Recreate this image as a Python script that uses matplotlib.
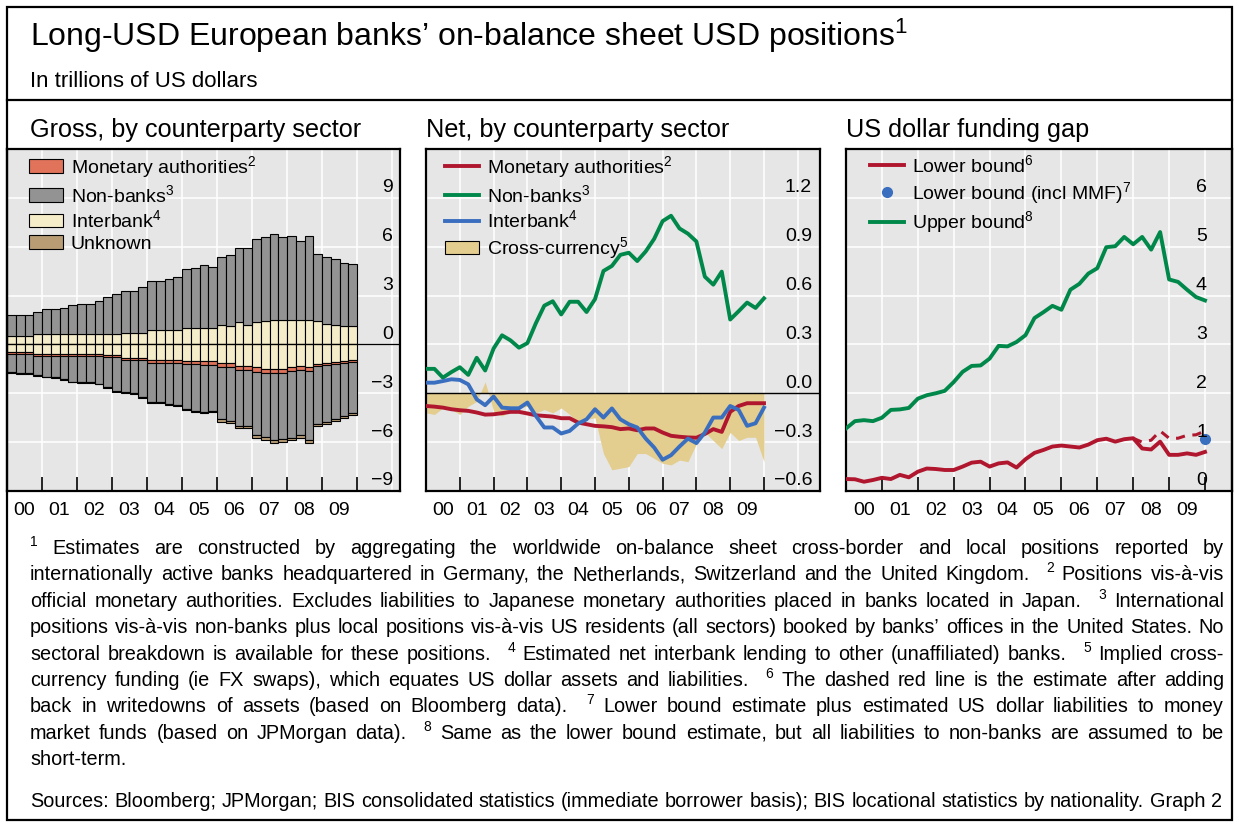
import matplotlib
matplotlib.use('Agg')
import matplotlib.pyplot as plt
import matplotlib.transforms as mtransforms
from matplotlib.patches import Rectangle, Patch
from matplotlib.lines import Line2D
import numpy as np

plt.rcParams['font.family'] = ['Liberation Sans', 'DejaVu Sans']
plt.rcParams['mathtext.fontset'] = 'custom'
plt.rcParams['mathtext.rm'] = 'Liberation Sans'
plt.rcParams['mathtext.it'] = 'Liberation Sans'
plt.rcParams['mathtext.bf'] = 'Liberation Sans'

W, H = 1239, 825

# ---------------- data ----------------
year_labels = ['00', '01', '02', '03', '04', '05', '06', '07', '08', '09']

# Gross panel (40 quarters, 2000Q1-2009Q4), USD trn
gross_interbank_assets = [0.51, 0.51, 0.51, 0.61, 0.61, 0.61, 0.61, 0.61, 0.61, 0.61,
                          0.67, 0.67, 0.67, 0.71, 0.71, 0.71, 0.91, 0.91, 0.91, 0.91,
                          1.01, 1.01, 1.01, 1.01, 1.22, 1.16, 1.36, 1.22, 1.36, 1.44,
                          1.52, 1.52, 1.52, 1.48, 1.52, 1.46, 1.26, 1.20, 1.12, 1.16]
gross_nonbank_assets = [1.32, 1.32, 1.32, 1.39, 1.58, 1.56, 1.62, 1.82, 1.88, 1.88,
                        1.97, 2.23, 2.43, 2.60, 2.60, 2.84, 3.00, 3.00, 3.13, 3.21,
                        3.61, 3.69, 3.87, 3.77, 4.12, 4.31, 4.55, 4.69, 5.11, 5.13,
                        5.28, 5.09, 5.13, 4.85, 5.12, 4.09, 4.12, 4.02, 3.90, 3.78]
gross_interbank_liab = [0.47, 0.47, 0.47, 0.57, 0.61, 0.61, 0.61, 0.61, 0.61, 0.61,
                        0.61, 0.67, 0.67, 0.81, 0.81, 0.81, 0.95, 0.95, 0.95, 0.95,
                        1.01, 1.01, 1.01, 1.01, 1.12, 1.16, 1.32, 1.32, 1.40, 1.48,
                        1.50, 1.50, 1.38, 1.32, 1.40, 1.20, 1.12, 1.08, 1.01, 0.95]
gross_monetary_liab = [0.10, 0.10, 0.10, 0.12, 0.10, 0.10, 0.10, 0.10, 0.10, 0.10,
                       0.12, 0.12, 0.12, 0.14, 0.14, 0.14, 0.16, 0.16, 0.16, 0.16,
                       0.20, 0.20, 0.24, 0.24, 0.26, 0.24, 0.24, 0.24, 0.28, 0.26,
                       0.26, 0.26, 0.28, 0.24, 0.24, 0.12, 0.12, 0.10, 0.10, 0.12]
gross_nonbank_liab = [1.15, 1.19, 1.19, 1.20, 1.28, 1.32, 1.42, 1.58, 1.62, 1.62,
                      1.70, 1.85, 2.05, 1.99, 2.03, 2.30, 2.40, 2.40, 2.54, 2.60,
                      2.77, 2.88, 2.89, 2.85, 3.22, 3.32, 3.43, 3.43, 3.88, 3.92,
                      4.12, 4.06, 4.06, 4.00, 4.24, 3.55, 3.53, 3.40, 3.30, 3.11]
gross_unknown_liab = [0.03, 0.03, 0.03, 0.03, 0.03, 0.03, 0.03, 0.03, 0.03, 0.03,
                      0.03, 0.06, 0.06, 0.06, 0.06, 0.06, 0.06, 0.06, 0.06, 0.06,
                      0.06, 0.06, 0.06, 0.06, 0.14, 0.12, 0.14, 0.14, 0.16, 0.20,
                      0.20, 0.20, 0.14, 0.16, 0.16, 0.14, 0.10, 0.12, 0.12, 0.16]

# Net panel (41 points, quarterly from 2000 to 2010)
net_monetary = [-0.078, -0.082, -0.088, -0.098, -0.104, -0.108, -0.118, -0.131, -0.129, -0.122,
                -0.114, -0.114, -0.124, -0.135, -0.139, -0.143, -0.153, -0.153, -0.180, -0.190,
                -0.200, -0.203, -0.208, -0.220, -0.216, -0.227, -0.216, -0.216, -0.241, -0.261,
                -0.267, -0.271, -0.273, -0.250, -0.220, -0.237, -0.114, -0.078, -0.061, -0.061,
                -0.061]
net_nonbanks = [0.150, 0.150, 0.096, 0.130, 0.160, 0.113, 0.218, 0.140, 0.275, 0.356,
                0.325, 0.280, 0.308, 0.430, 0.538, 0.565, 0.484, 0.562, 0.562, 0.499,
                0.578, 0.751, 0.782, 0.850, 0.863, 0.812, 0.871, 0.948, 1.057, 1.090,
                1.012, 0.980, 0.932, 0.716, 0.667, 0.747, 0.453, 0.504, 0.557, 0.524,
                0.583]
net_interbank = [0.065, 0.065, 0.075, 0.086, 0.082, 0.055, -0.037, -0.073, -0.020, -0.088,
                 -0.092, -0.092, -0.057, -0.139, -0.210, -0.210, -0.247, -0.231, -0.186, -0.160,
                 -0.098, -0.149, -0.093, -0.160, -0.190, -0.210, -0.278, -0.333, -0.408, -0.380,
                 -0.327, -0.278, -0.306, -0.241, -0.149, -0.149, -0.078, -0.102, -0.200, -0.184,
                 -0.088]
net_cross_currency = [-0.12, -0.13, -0.09, -0.10, -0.13, -0.08, -0.05, 0.07, -0.11, -0.14,
                      -0.11, -0.09, -0.08, -0.12, -0.10, -0.12, -0.09, -0.13, -0.18, -0.16,
                      -0.15, -0.37, -0.47, -0.46, -0.45, -0.37, -0.37, -0.40, -0.43, -0.44,
                      -0.41, -0.42, -0.31, -0.24, -0.29, -0.34, -0.24, -0.29, -0.27, -0.27,
                      -0.42]

# Funding gap panel (41 points)
gap_upper = [1.28, 1.43, 1.45, 1.43, 1.50, 1.66, 1.67, 1.70, 1.89, 1.96,
             2.00, 2.05, 2.23, 2.44, 2.56, 2.57, 2.71, 2.97, 2.96, 3.05,
             3.19, 3.54, 3.66, 3.79, 3.71, 4.12, 4.24, 4.45, 4.56, 4.99,
             5.01, 5.20, 5.05, 5.20, 4.94, 5.30, 4.33, 4.28, 4.12, 3.97,
             3.90]
gap_lower = [0.245, 0.240, 0.190, 0.225, 0.270, 0.245, 0.330, 0.280, 0.395, 0.460,
             0.450, 0.430, 0.430, 0.500, 0.580, 0.600, 0.500, 0.565, 0.585, 0.480,
             0.650, 0.780, 0.840, 0.910, 0.930, 0.910, 0.890, 0.950, 1.040, 1.070,
             1.010, 1.060, 1.080, 0.870, 0.850, 1.010, 0.740, 0.740, 0.770, 0.740,
             0.800]
gap_lower_writedowns = [1.08, 1.00, 1.04, 1.23, 1.08, 1.08, 1.14, 1.15, 1.23]  # from point 32 on
gap_lower_mmf = [1.06]  # last point only

# ---------------- figure ----------------
fig = plt.figure(figsize=(W / 100, H / 100), dpi=100)


def fx(px):
    return px / W


def fy(py):
    return 1 - py / H


def px_box(x0, y0, x1, y1):
    return [x0 / W, 1 - y1 / H, (x1 - x0) / W, (y1 - y0) / H]


# outer frame and header separator
fig.add_artist(Rectangle((fx(7), fy(820)), fx(1232) - fx(7), fy(7) - fy(820),
                         transform=fig.transFigure, fill=False, lw=1.6, ec='black'))
fig.add_artist(Line2D([fx(7), fx(1232)], [fy(100), fy(100)], transform=fig.transFigure,
                      lw=1.6, color='black'))

fig.text(fx(30), fy(46), 'Long-USD European banks\u2019 on-balance sheet USD positions$^{1}$',
         fontsize=23, va='baseline', ha='left')
fig.text(fx(30), fy(87), 'In trillions of US dollars', fontsize=16, va='baseline', ha='left')

panel_titles = ['Gross, by counterparty sector', 'Net, by counterparty sector', 'US dollar funding gap']
title_x = [30, 426, 846]
for t, x in zip(panel_titles, title_x):
    fig.text(fx(x), fy(137), t, fontsize=18.2, va='baseline', ha='left')

BG = '#e6e6e6'
RED = '#b0172f'
GREEN = '#00884a'
BLUE = '#3a6ebf'
TFS = 14
LFS = 14


def style_axes(ax, xmax, ylim, ytick_vals, ytick_labels, label_x):
    ax.set_facecolor(BG)
    ax.set_xlim(2000, xmax)
    ax.set_ylim(*ylim)
    for s in ax.spines.values():
        s.set_linewidth(1.6)
        s.set_color('black')
    for yr in range(2001, int(np.floor(xmax)) + 1):
        ax.axvline(yr, color='white', lw=1.1, zorder=0.5)
    for v in ytick_vals:
        if v != 0 and ylim[0] < v < ylim[1]:
            ax.axhline(v, color='white', lw=1.1, zorder=0.5)
    ax.set_xticks(list(range(2001, 2011)))
    ax.set_xticklabels([])
    ax.set_xticks([2000.5 + k for k in range(10)], minor=True)
    ax.set_xticklabels(year_labels, minor=True)
    ax.tick_params(axis='x', which='major', direction='in', length=10, width=1.2,
                   color='black', labelbottom=False)
    ax.tick_params(axis='x', which='minor', length=0, pad=8, labelsize=TFS)
    ax.set_yticks([])
    trans = mtransforms.offset_copy(ax.get_yaxis_transform(), fig=fig, x=0, y=4.0, units='points')
    for v, lab in zip(ytick_vals, ytick_labels):
        ax.text(label_x, v, lab, transform=trans, ha='right', va='baseline', fontsize=TFS, zorder=5)


leg_kw = dict(loc='upper left', bbox_transform=fig.transFigure, frameon=False, fontsize=LFS,
              borderpad=0, borderaxespad=0, handlelength=1.75, handleheight=0.7,
              handletextpad=0.4, labelspacing=0.2)

# ---------- left panel: gross ----------
ax1 = fig.add_axes(px_box(7, 149, 400, 491))
style_axes(ax1, 2000 + (400 - 7) / 35.0, (-9, 12),
           [9, 6, 3, 0, -3, -6, -9], ['9', '6', '3', '0', '\u22123', '\u22126', '\u22129'],
           0.982)
n = len(gross_interbank_assets)
xb = 2000.125 + 0.25 * np.arange(n)
ib_a = np.array(gross_interbank_assets)
nb_a = np.array(gross_nonbank_assets)
ib_l = -np.array(gross_interbank_liab)
ma_l = -np.array(gross_monetary_liab)
nb_l = -np.array(gross_nonbank_liab)
un_l = -np.array(gross_unknown_liab)
C_MA, C_NB, C_IB, C_UN = '#e0735a', '#939393', '#f5ecca', '#b89c74'
bkw = dict(width=0.25, edgecolor='black', linewidth=0.8, zorder=2)
ax1.bar(xb, ib_a, color=C_IB, **bkw)
ax1.bar(xb, nb_a, bottom=ib_a, color=C_NB, **bkw)
ax1.bar(xb, ib_l, color=C_IB, **bkw)
ax1.bar(xb, ma_l, bottom=ib_l, color=C_MA, **bkw)
ax1.bar(xb, nb_l, bottom=ib_l + ma_l, color=C_NB, **bkw)
ax1.bar(xb, un_l, bottom=ib_l + ma_l + nb_l, color=C_UN, **bkw)
ax1.axhline(0, color='black', lw=0.9, zorder=3)

h1 = [Patch(fc=C_MA, ec='black', lw=0.8), Patch(fc=C_NB, ec='black', lw=0.8),
      Patch(fc=C_IB, ec='black', lw=0.8), Patch(fc=C_UN, ec='black', lw=0.8)]
l1 = ['Monetary authorities$^{2}$', 'Non-banks$^{3}$', 'Interbank$^{4}$', 'Unknown']
ax1.legend(h1, l1, bbox_to_anchor=(fx(29), fy(154)), **leg_kw)

# ---------- middle panel: net ----------
ax2 = fig.add_axes(px_box(426, 149, 820, 491))
style_axes(ax2, 2000 + (820 - 426) / 33.8, (-0.6, 1.5),
           [1.2, 0.9, 0.6, 0.3, 0.0, -0.3, -0.6],
           ['1.2', '0.9', '0.6', '0.3', '0.0', '\u22120.3', '\u22120.6'], 0.98)
xq = 2000 + 0.25 * np.arange(len(net_nonbanks))
C_CC = '#e3cd8f'
ax2.fill_between(xq, 0, net_cross_currency, color=C_CC, lw=0, zorder=1)
ax2.axhline(0, color='black', lw=1.0, zorder=2)
ax2.plot(xq, net_monetary, color=RED, lw=2.8, zorder=3)
ax2.plot(xq, net_nonbanks, color=GREEN, lw=2.8, zorder=3)
ax2.plot(xq, net_interbank, color=BLUE, lw=2.8, zorder=3)
h2 = [Line2D([], [], color=RED, lw=2.8), Line2D([], [], color=GREEN, lw=2.8),
      Line2D([], [], color=BLUE, lw=2.8), Patch(fc=C_CC, ec='black', lw=0.8)]
l2 = ['Monetary authorities$^{2}$', 'Non-banks$^{3}$', 'Interbank$^{4}$', 'Cross-currency$^{5}$']
ax2.legend(h2, l2, bbox_to_anchor=(fx(445), fy(154)), **leg_kw)

# ---------- right panel: funding gap ----------
ax3 = fig.add_axes(px_box(846, 149, 1232, 491))
style_axes(ax3, 2000 + (1232 - 846) / 35.9, (0, 7),
           [6, 5, 4, 3, 2, 1, 0], ['6', '5', '4', '3', '2', '1', '0'], 0.935)
xg = 2000 + 0.25 * np.arange(len(gap_upper))
ax3.plot(xg, gap_lower, color=RED, lw=2.8, zorder=3)
xw = xg[len(xg) - len(gap_lower_writedowns):]
ax3.plot(xw, gap_lower_writedowns, color=RED, lw=2.2, ls=(0, (3, 2.5)), zorder=3)
ax3.plot(xg[-1:], gap_lower_mmf, 'o', color=BLUE, ms=7, zorder=4)
ax3.plot(xg, gap_upper, color=GREEN, lw=2.8, zorder=3)
h3 = [Line2D([], [], color=RED, lw=2.8),
      Line2D([], [], color=BLUE, marker='o', ls='none', ms=7),
      Line2D([], [], color=GREEN, lw=2.8)]
l3 = ['Lower bound$^{6}$', 'Lower bound (incl MMF)$^{7}$', 'Upper bound$^{8}$']
ax3.legend(h3, l3, bbox_to_anchor=(fx(870), fy(154)), **leg_kw)

# ---------------- footnotes (justified) ----------------
foot_lines = [
    "^1 Estimates are constructed by aggregating the worldwide on-balance sheet cross-border and local positions reported by",
    "internationally active banks headquartered in Germany, the Netherlands, Switzerland and the United Kingdom. ^2 Positions vis-\u00e0-vis",
    "official monetary authorities. Excludes liabilities to Japanese monetary authorities placed in banks located in Japan. ^3 International",
    "positions vis-\u00e0-vis non-banks plus local positions vis-\u00e0-vis US residents (all sectors) booked by banks\u2019 offices in the United States. No",
    "sectoral breakdown is available for these positions. ^4 Estimated net interbank lending to other (unaffiliated) banks. ^5 Implied cross-",
    "currency funding (ie FX swaps), which equates US dollar assets and liabilities. ^6 The dashed red line is the estimate after adding",
    "back in writedowns of assets (based on Bloomberg data). ^7 Lower bound estimate plus estimated US dollar liabilities to money",
    "market funds (based on JPMorgan data). ^8 Same as the lower bound estimate, but all liabilities to non-banks are assumed to be",
    "short-term.",
]
sources_line = "Sources: Bloomberg; JPMorgan; BIS consolidated statistics (immediate borrower basis); BIS locational statistics by nationality. Graph 2"

FS = 14.3
SUP_FS = 10
renderer = fig.canvas.get_renderer()


def measure(s, size):
    t = fig.text(0, 0, s, fontsize=size)
    w = t.get_window_extent(renderer).width
    t.remove()
    return w


space_w = measure('a a', FS) - measure('aa', FS)


def draw_line(line, base_y, x0, x1, justify):
    toks = line.split(' ')
    items = []
    for tk in toks:
        if tk.startswith('^'):
            items.append((tk[1:], True, measure(tk[1:], SUP_FS)))
        else:
            items.append((tk, False, measure(tk, FS)))
    gaps = []
    for i in range(1, len(items)):
        gaps.append(space_w * (2.6 if items[i][1] else 1.0))
    total = sum(it[2] for it in items) + sum(gaps)
    extra = 0
    if justify and gaps:
        extra = (x1 - x0 - total) / len(gaps)
    x = x0
    for i, (s, sup, w) in enumerate(items):
        if sup:
            fig.text(fx(x), fy(base_y - 8), s, fontsize=SUP_FS, va='baseline', ha='left')
        else:
            fig.text(fx(x), fy(base_y), s, fontsize=FS, va='baseline', ha='left')
        x += w
        if i < len(gaps):
            x += gaps[i] + extra


for i, line in enumerate(foot_lines):
    draw_line(line, 554 + 26.4 * i, 30, 1224, justify=(i < len(foot_lines) - 1))
draw_line(sources_line, 807, 30, 1224, justify=False)

fig.savefig('out.png', dpi=100)
